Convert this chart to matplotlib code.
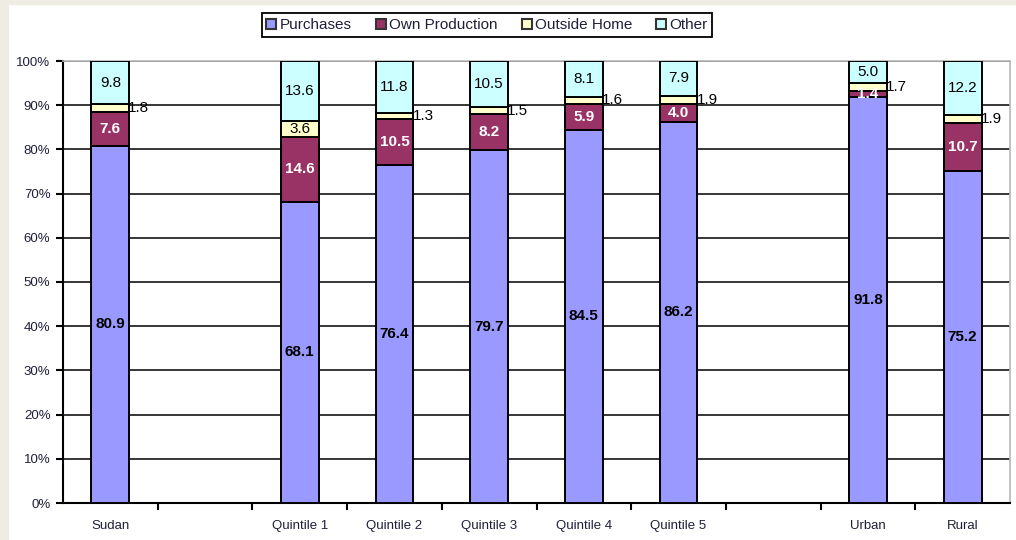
import matplotlib
matplotlib.use("Agg")
import matplotlib.pyplot as plt
from matplotlib.patches import Rectangle
import numpy as np

plt.rcParams['font.family'] = ['Liberation Sans', 'DejaVu Sans']

# slots on the x axis (two empty slots act as separators)
categories = ['Sudan', '', 'Quintile 1', 'Quintile 2', 'Quintile 3',
              'Quintile 4', 'Quintile 5', '', 'Urban', 'Rural']
series = ['Purchases', 'Own Production', 'Outside Home', 'Other']
purchases = [80.9, None, 68.1, 76.4, 79.7, 84.5, 86.2, None, 91.8, 75.2]
own_prod = [7.6, None, 14.6, 10.5, 8.2, 5.9, 4.0, None, 1.4, 10.7]
outside = [1.8, None, 3.6, 1.3, 1.5, 1.6, 1.9, None, 1.7, 1.9]
other = [9.8, None, 13.6, 11.8, 10.5, 8.1, 7.9, None, 5.0, 12.2]

colors = ['#9999FF', '#993366', '#FFFFCC', '#CCFFFF']
txt = '#1f1f3a'

fig = plt.figure(figsize=(10.16, 5.4), dpi=100)
fig.patches.append(Rectangle((0, 0), 8 / 1016, 1, transform=fig.transFigure,
                             color='#efece4', zorder=0))
fig.patches.append(Rectangle((0, 1 - 4 / 540), 1, 4 / 540, transform=fig.transFigure,
                             color='#efece4', zorder=0))
ax = fig.add_axes([63 / 1016, 1 - 503 / 540, 947 / 1016, 442 / 540])

x = np.arange(len(categories))
width = 0.4
data = [purchases, own_prod, outside, other]
fs = 11

for i in x:
    if purchases[i] is None:
        continue
    vals = [d[i] for d in data]
    total = sum(vals)
    bottom = 0.0
    for k, v in enumerate(vals):
        h = v / total * 100
        ax.bar(i, h, width, bottom=bottom, color=colors[k], edgecolor='black',
               linewidth=1.4, zorder=3)
        mid = bottom + h / 2
        lab = f'{v:.1f}'
        if k == 0:
            ax.text(i, mid, lab, ha='center', va='center', fontsize=fs,
                    fontweight='bold', color='black', zorder=5)
        elif k == 1:
            ax.text(i, mid, lab, ha='center', va='center', fontsize=fs,
                    fontweight='bold', color='white', zorder=5)
        elif k == 2:
            if v >= 3:
                ax.text(i, mid, lab, ha='center', va='center', fontsize=fs,
                        color='black', zorder=5)
            else:
                ax.text(i + width / 2 - 0.01, mid, lab, ha='left', va='center',
                        fontsize=fs, color='black', zorder=5)
        else:
            ax.text(i, mid, lab, ha='center', va='center', fontsize=fs,
                    color='black', zorder=5)
        bottom += h

ax.set_xlim(-0.5, len(categories) - 0.5)
ax.set_ylim(0, 100)
ax.set_yticks(np.arange(0, 101, 10))
ax.set_yticklabels([f'{t}%' for t in range(0, 101, 10)], fontsize=9.5, color=txt)
ax.set_xticks(x)
ax.set_xticklabels(categories, fontsize=9.5, color=txt)
ax.set_xticks(np.arange(0.5, len(categories) - 0.5, 1), minor=True)
ax.tick_params(axis='x', which='major', length=0, pad=12)
ax.tick_params(axis='x', which='minor', length=5, width=1.5, direction='out')
ax.tick_params(axis='y', length=5, width=1.5, direction='out', pad=4)

ax.yaxis.grid(True, color='black', linewidth=1.1, zorder=0)
ax.set_axisbelow(True)
for s in ['left', 'bottom']:
    ax.spines[s].set_linewidth(1.5)
    ax.spines[s].set_color('black')
for s in ['top', 'right']:
    ax.spines[s].set_color('#b8b8b8')
    ax.spines[s].set_linewidth(1.2)

handles = [Rectangle((0, 0), 1, 1, facecolor=c, edgecolor='#333333', linewidth=1.5)
           for c in colors]
leg = fig.legend(handles, series, ncol=4, loc='center',
                 bbox_to_anchor=(487 / 1016, 1 - 25 / 540), fontsize=11,
                 frameon=True, fancybox=False, edgecolor='black', framealpha=1,
                 handlelength=0.65, handleheight=0.65, handletextpad=0.2,
                 columnspacing=1.6, borderpad=0.3)
leg.get_frame().set_linewidth(1.3)
for t in leg.get_texts():
    t.set_color(txt)

fig.savefig('out.png', dpi=100)
